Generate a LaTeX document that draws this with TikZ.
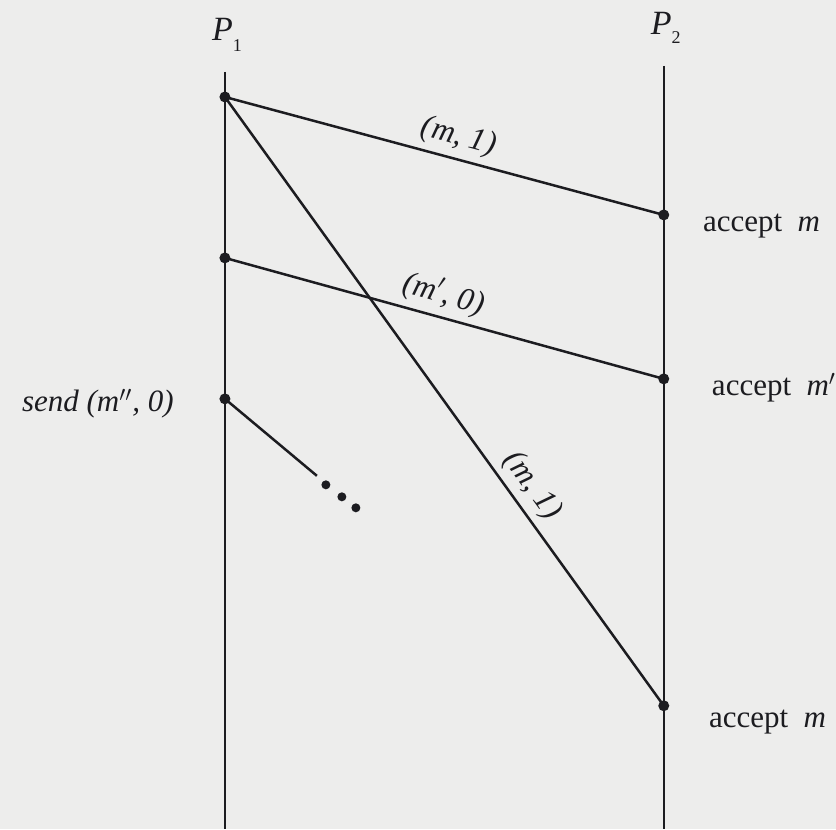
\documentclass[tikz,border=0pt]{standalone}
\usepackage{fontspec}
\setmainfont{Liberation Serif}
\usepackage{tikz}
\usetikzlibrary{positioning}
\definecolor{PaperGray}{RGB}{237,237,236}
\definecolor{InkBlack}{RGB}{28,28,32}

\begin{document}
\begin{tikzpicture}[x=0.5pt, y=-0.5pt, line width=1.25pt, color=InkBlack,
    evt/.style={circle, fill=InkBlack, inner sep=0pt, minimum size=5.5pt},
    tick/.style={circle, fill=InkBlack, inner sep=0pt, minimum size=4.5pt},
    msg/.style={font=\fontsize{16}{19}\selectfont\itshape, sloped, above, inner sep=3pt},
    note/.style={font=\fontsize{15.5}{18}\selectfont, inner sep=0pt},
    proc/.style={font=\fontsize{17}{20}\selectfont, inner sep=0pt}]
  \fill[PaperGray] (0,0) rectangle (836,829);
  % processes
  \node[proc] (p1) at (227,35) {\textit{P}\raisebox{-0.75ex}{\small 1}};
  \node[proc] (p2) at (666,28) {\textit{P}\raisebox{-0.6ex}{\small 2}};
  \coordinate (p1top) at (225,72);
  \coordinate (p1bot) at (225,829);
  \coordinate (p2top) at (664,66);
  \coordinate (p2bot) at (664,829);
  \draw (p1top) -- (p1bot);
  \draw (p2top) -- (p2bot);
  % events
  \node[evt] (s1) at (225,97) {};
  \node[evt] (s2) at (225,258) {};
  \node[evt] (s3) at (225,399) {};
  \node[evt] (r1) at (664,215) {};
  \node[evt] (r2) at (664,379) {};
  \node[evt] (r3) at (664,706) {};
  % messages
  \draw (s1.center) -- node[msg, pos=0.52] {(m, 1)} (r1.center);
  \draw (s2.center) -- node[msg, pos=0.485] {(m$'$, 0)} (r2.center);
  \draw (s1.center) -- node[msg, pos=0.66] {(m, 1)} (r3.center);
  \coordinate (gap) at (317,476);
  \draw (s3.center) -- (gap);
  \foreach \k/\px/\py in {1/326/485, 2/342/497, 3/356/508}
    \node[tick] (dot\k) at (\px,\py) {};
  % notes
  \node[note, anchor=base west] (acc1) at (702,232) {accept\ \ \textit{m}};
  \node[note, anchor=base west] (acc2) at (711,396) {accept\ \ \textit{m}$'$};
  \node[note, anchor=base west] (acc3) at (708,728) {accept\ \ \textit{m}};
  \node[note, anchor=base east] (snd) at (175,412) {\textit{send (m$''$, 0)}};
\end{tikzpicture}
\end{document}
